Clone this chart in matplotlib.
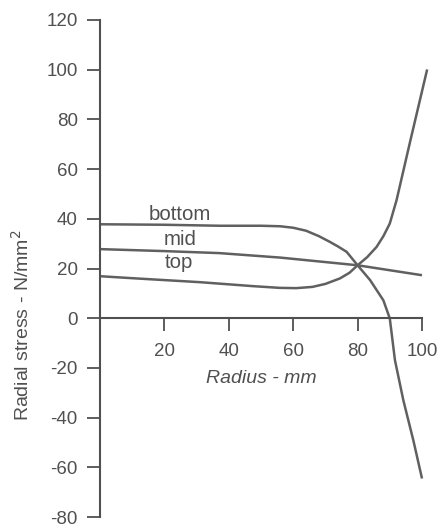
import matplotlib.pyplot as plt

# Radial stress vs radius
r_bottom = [0, 20, 37.3, 50, 55.9, 60, 64, 68, 71.4, 74, 76.6, 80, 83.9, 88, 90, 91.6, 94.2, 97.3, 100]
s_bottom = [37.8, 37.6, 37.2, 37.2, 37.0, 36.4, 35.2, 33.0, 30.7, 28.8, 26.7, 21.3, 15.3, 7.2, -0.1, -16.9, -33.0, -49.1, -64.5]

r_mid = [0, 20, 37, 55.9, 80, 100]
s_mid = [27.8, 27.0, 26.2, 24.4, 21.3, 17.3]

r_top = [0, 10, 31, 47.5, 55.9, 61, 66, 70, 74.5, 77.5, 80, 83, 85.9, 88, 90, 92.1, 96.3, 101.6]
s_top = [16.9, 16.1, 14.5, 12.9, 12.2, 12.1, 12.6, 13.8, 16.0, 18.3, 21.3, 24.6, 28.7, 33.0, 38.1, 47.5, 71.0, 100.1]

labels = ["bottom", "mid", "top"]
label_pos = [(24.8, 39.4), (24.8, 29.4), (24.5, 20.0)]

plt.rcParams['font.family'] = ['Liberation Sans', 'DejaVu Sans']
plt.rcParams['axes.unicode_minus'] = False
grey = '#505050'
line_grey = '#606060'

fig = plt.figure(figsize=(4.41, 5.28), dpi=100)
ax = fig.add_axes([100 / 441, 11 / 528, 322 / 441, 497 / 528])

for r, s in [(r_bottom, s_bottom), (r_mid, s_mid), (r_top, s_top)]:
    ax.plot(r, s, color=line_grey, lw=1.8, clip_on=False,
            solid_capstyle='butt', solid_joinstyle='round')

for txt, (x, y) in zip(labels, label_pos):
    ax.text(x, y, txt, ha='center', va='baseline', fontsize=14.8, color=grey)

ax.set_xlim(0, 100)
ax.set_ylim(-80, 120)
ax.set_xticks([20, 40, 60, 80, 100])
ax.set_yticks(range(-80, 121, 20))

ax.spines['top'].set_visible(False)
ax.spines['right'].set_visible(False)
ax.spines['bottom'].set_position(('data', 0))
for sp in ['left', 'bottom']:
    ax.spines[sp].set_color(grey)
    ax.spines[sp].set_linewidth(1.5)

ax.tick_params(axis='both', direction='out', length=9.5, width=1.3, color=grey,
               labelcolor=grey, labelsize=13.5)
ax.tick_params(axis='y', pad=6.5)
ax.tick_params(axis='x', pad=8)

ax.set_xlabel('Radius - mm', fontsize=14, color=grey, style='italic')
ax.xaxis.set_label_coords(0.5, 0.296)
ax.set_ylabel('Radial stress - N/mm$^2$', fontsize=14, color=grey)
ax.yaxis.set_label_coords(-0.21, 0.385)

fig.savefig('out.png', dpi=100)
